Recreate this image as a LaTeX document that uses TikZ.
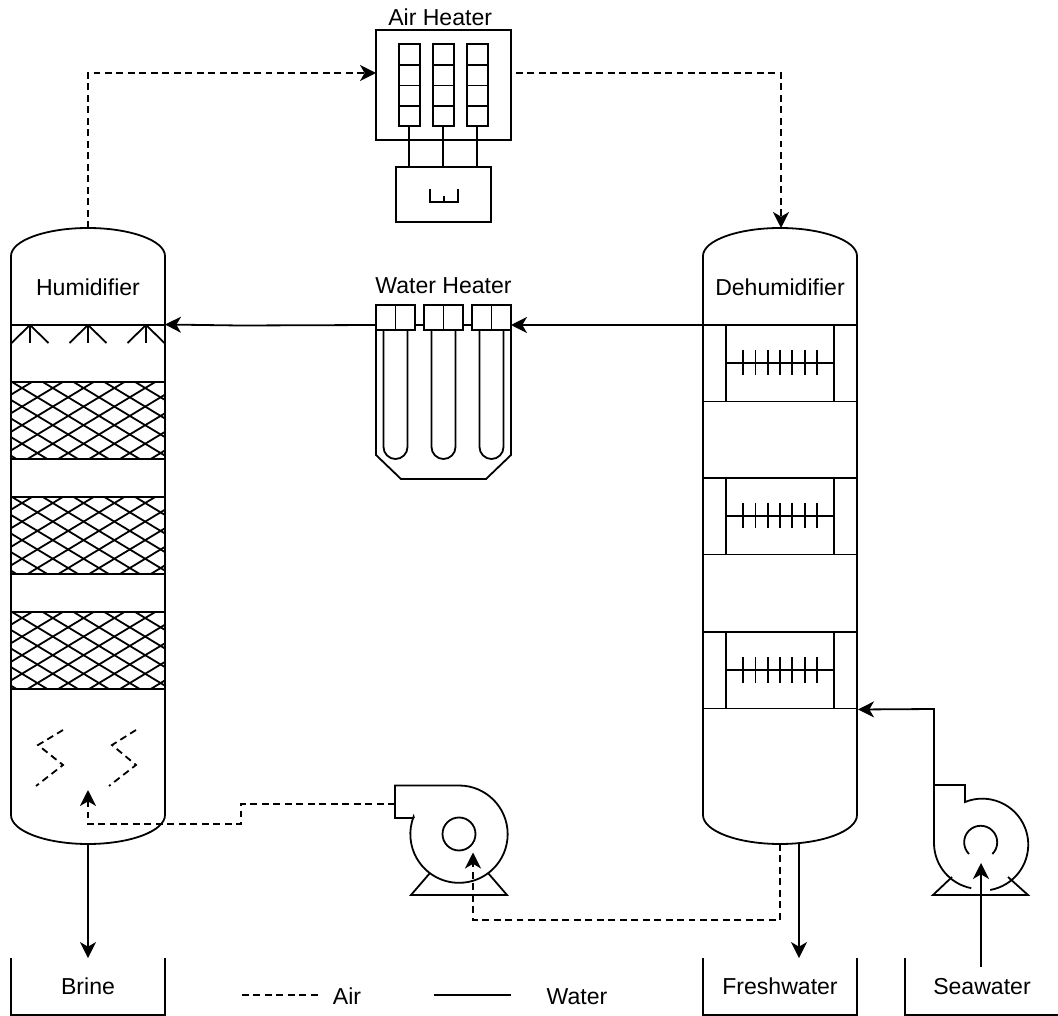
\documentclass[tikz,border=0pt]{standalone}
\usepackage{fontspec}
\setmainfont{Liberation Sans}
\usetikzlibrary{arrows.meta,positioning,calc}
\tikzset{
  unit/.style={draw,line width=1.35pt,minimum width=#1,inner sep=0pt,outer sep=0pt},
  lbl/.style={inner sep=0pt,outer sep=0pt,font=\fontsize{17.3}{20}\selectfont},
  bin/.style={inner sep=0pt,outer sep=0pt,minimum width=115.5pt,minimum height=43pt,font=\fontsize{17.3}{20}\selectfont},
  air/.style={line width=1.35pt,dash pattern=on 5.2pt off 3.4pt},
  water/.style={line width=1.35pt},
  headair/.style={air,-{Stealth[length=12pt,width=12pt,inset=3.5pt]}},
  headwater/.style={water,-{Stealth[length=12pt,width=12pt,inset=3.5pt]}}
}
\begin{document}
\begin{tikzpicture}[x=0.75pt,y=-0.75pt,line width=1.35pt]
  \useasboundingbox (0,0) rectangle (1058,1016);
  % air heater
  \node[unit=101.25pt,minimum height=82.5pt] (airbox) at (443.5,85) {};
  \node[lbl,above=3.5pt of airbox,xshift=-2.5pt] (airlabel) {Air Heater};
  \node[unit=71.25pt,minimum height=41.25pt] (powerbox) at (443.5,194.5) {};
  \foreach \x/\name in {399/a,433/b,467/c} {
    \node[unit=15.5pt,minimum height=61.5pt,anchor=north west] (elem\name) at (\x,44) {};
    \foreach \y in {65,85.5,106} \draw (\x,\y) -- (\x+20.7,\y);
    \draw (elem\name.south) -- (elem\name.south |- powerbox.north);
  }
  \draw (430,189) -- (430,202) -- (458,202) -- (458,189) (444,196) -- (444,202);
  % water heater
  \foreach \x/\name in {376/a,424/b,472/c} {
    \node[unit=29.25pt,minimum height=19pt,anchor=north west] (coil\name) at (\x,305) {};
    \draw (coil\name.north) -- (coil\name.south);
    \draw (\x+7.5,330.5) -- (\x+7.5,447) arc[start angle=180,end angle=360,radius=9pt] -- (\x+31.5,330.5);
  }
  \node[lbl,above=8.5pt of coilb] (waterlabel) {Water Heater};
  \draw (376,330.5) -- (376,455) -- (401,479) -- (486,479) -- (511,455) -- (511,330.5);
  \draw (coila.east |- 0,325) -- (coilb.west |- 0,325);
  \draw (coilb.east |- 0,325) -- (coilc.west |- 0,325);
  % humidifier
  \coordinate (humtop) at (88,228);
  \coordinate (humbot) at (88,844);
  \coordinate (humin) at (165,324.5);
  \draw (11,815) -- (11,256) .. controls (11,240.6) and (45.6,228) .. (humtop)
    .. controls (130.4,228) and (165,240.6) .. (165,256) -- (165,815)
    .. controls (165,831) and (130.4,844) .. (humbot) .. controls (45.6,844) and (11,831) .. (11,815);
  \node[lbl] (humlabel) at (88,287) {Humidifier};
  \draw (11,325) -- (165,325);
  \foreach \x in {30,88,146} \draw (\x,325) -- (\x,343) (\x,325) -- (\x-18.5,343) (\x,325) -- (\x+18.5,343);
  \foreach \y in {382,497,612} {
    \draw (11,\y) -- (165,\y) (11,\y+77) -- (165,\y+77);
    \begin{scope}
      \clip (11,\y) rectangle (165,\y+77);
      \foreach \k in {-4,...,9} {
        \draw (22+\k*30.8,\y+6) ++(-40,-24.1) -- ++(160,96.5);
        \draw (22+\k*30.8,\y+6) ++(40,-24.1) -- ++(-160,96.5);
      }
    \end{scope}
  }
  \draw[air] (63,730) -- (38,745) -- (63,765) -- (36,786);
  \draw[air] (136,730) -- (112,745) -- (136,765) -- (109,786);
  % dehumidifier
  \coordinate (dehtop) at (780,228);
  \coordinate (dehbot) at (780,844);
  \coordinate (dehwater) at (703,325);
  \coordinate (dehin) at (858,709.5);
  \draw (703,815) -- (703,256) .. controls (703,240.6) and (737.6,228) .. (dehtop)
    .. controls (822.4,228) and (857,240.6) .. (857,256) -- (857,815)
    .. controls (857,831) and (822.4,844) .. (dehbot) .. controls (737.6,844) and (703,831) .. (703,815);
  \node[lbl] (dehlabel) at (780,287) {Dehumidifier};
  \foreach \y in {325,478,632} {
    \draw (703,\y) -- (857,\y) (703,\y+76.5) -- (857,\y+76.5);
    \draw (726,\y) -- (726,\y+76.5) (834,\y) -- (834,\y+76.5) (726,\y+38) -- (834,\y+38);
    \foreach \x in {743,755.5,768,780,792,805,817} \draw (\x,\y+25) -- (\x,\y+50.5);
  }
  % blower
  \coordinate (blowout) at (395,804);
  \coordinate (blowin) at (473,852.5);
  \draw (414,818) -- (395,818) -- (395,785.5) -- (459,785.5) arc[start angle=90,end angle=-201,radius=36.5pt] -- (414,818);
  \node[draw,circle,minimum size=24.75pt,inner sep=0pt,outer sep=0pt] (blowhub) at (459,834) {};
  \draw (430,873) -- (411,895) -- (507,895) -- (488,873);
  % seawater pump
  \coordinate (pumpout) at (934,785);
  \coordinate (pumpin) at (981,863);
  \coordinate (seaout) at (981,967);
  \draw (pumpout) -- (965,785) -- (965,802) arc[start angle=112,end angle=-80,radius=34.5pt];
  \draw (pumpout) -- (934,843) arc[start angle=180,end angle=259,radius=34.5pt];
  \draw (969,854) arc[start angle=225,end angle=-45,radius=12.4pt];
  \draw (952,877) -- (933,895) -- (1028,895) -- (1008,877);
  % tanks
  \node[bin] (brine) at (88,986.7) {Brine};
  \node[bin] (fresh) at (780,986.7) {Freshwater};
  \node[bin] (sea) at (982,986.7) {Seawater};
  \foreach \name in {brine,fresh,sea}
    \draw (\name.north west) -- (\name.south west) -- (\name.south east) -- (\name.north east);
  % air stream
  \draw[headair] (humtop) -- (88,73) -- (airbox.west |- 0,73);
  \draw[headair] (516,73) -- (781,73) -- (781,228);
  \draw[headair] (blowout) -- (241,804) -- (241,824) -- (88,824) -- (88,790);
  \draw[headair] (dehbot) -- (780,920) -- (473,920) -- (blowin);
  % water stream
  \draw[headwater] (dehwater) -- (coilc.east |- 0,325);
  \draw[headwater] (coila.west |- 0,325) -- (240,325.5) -- (humin);
  \draw[headwater] (pumpout) -- (934,709) -- (dehin);
  \draw[headwater] (seaout) -- (pumpin);
  \draw[headwater] (humbot) -- (brine.north);
  \draw[headwater] (799,844) -- (fresh.north -| 799,0);
  % legend
  \coordinate (dashA) at (242,995);
  \coordinate (dashB) at (318,995);
  \coordinate (lineA) at (434,995);
  \coordinate (lineB) at (511,995);
  \draw[air] (dashA) -- (dashB);
  \node[lbl] (airkey) at (347,996) {Air};
  \draw[water] (lineA) -- (lineB);
  \node[lbl] (waterkey) at (577,997) {Water};
\end{tikzpicture}
\end{document}
